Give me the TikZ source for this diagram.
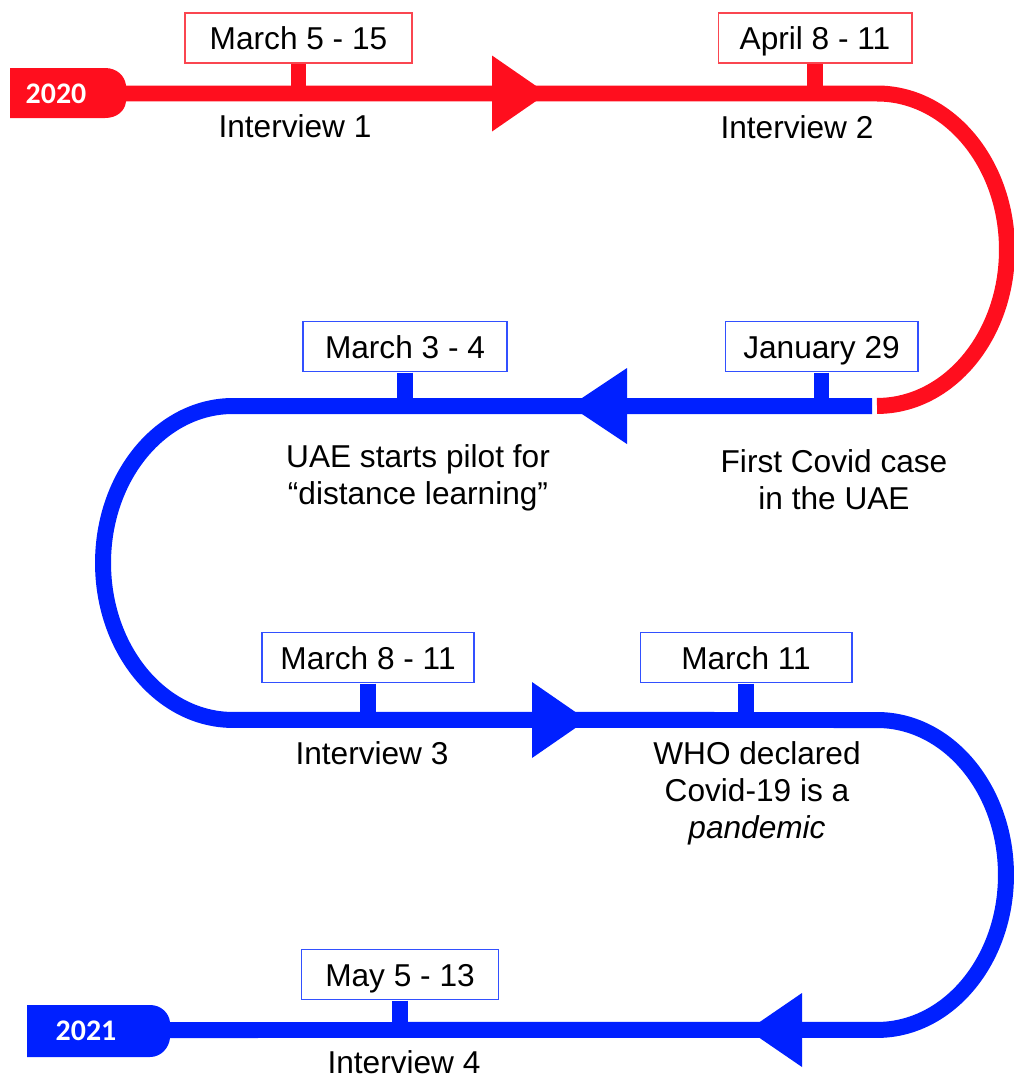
\documentclass[tikz,border=0pt]{standalone}
\usepackage{fontspec}
\setmainfont{Liberation Sans}
\newfontfamily\tagfont{Carlito}
\usepackage{tikz}

\definecolor{tlred}{RGB}{255,14,30}
\definecolor{tlblue}{RGB}{0,32,255}
\definecolor{tlredb}{RGB}{250,70,80}
\definecolor{tlblueb}{RGB}{50,80,255}

\begin{document}
\begin{tikzpicture}[x = .02cm, y = -.02cm,
		track/.style = {line width = 9.1pt},
		stem/.style = {line width = 9pt},
		datebox/.style = {draw, line width = .6pt, fill = white, minimum height = 1cm, inner sep = 0pt, text height = 15.6pt, text depth = 2.4pt, font = \fontsize{18}{21}\selectfont},
		lbl/.style = {align = center, anchor = north, inner sep = 0pt, font = \fontsize{18}{21}\selectfont},
		yeartag/.style = {text = white, inner sep = 0pt, font = \tagfont\bfseries\fontsize{17}{20}\selectfont}]
		\useasboundingbox (0, 0) rectangle (1014, 1082);
		% rows of the track
		\coordinate (r1) at (0, 93.5);
		\coordinate (r2) at (0, 406);
		\coordinate (r3) at (0, 720);
		\coordinate (r4) at (0, 1030);
		\coordinate (s1) at (124, 93.5);
		\coordinate (e1) at (877, 93.5);
		\coordinate (s2) at (872, 406);
		\coordinate (e2) at (233, 406);
		\coordinate (s3) at (233, 720);
		\coordinate (e3) at (877, 720);
		\coordinate (s4) at (877, 1030);
		\coordinate (e4) at (168, 1030);

		% 2020
		\fill [tlred] (10, 68) -- (105, 68) .. controls (117, 68) and (125, 76) .. (126, 85.5) -- (126, 101.5) .. controls (125, 111) and (117, 118) .. (105, 118) -- (10, 118) -- cycle;
		\node [yeartag] (y2020) at (56, 93.5) {2020};
		\draw [track, tlred] (s1) -- (e1) arc [start angle = 90, end angle = -90, x radius = 2.6cm, y radius = 3.125cm];
		\fill [tlred] (547, 93.5) -- (492, 55.5) -- (492, 131.5) -- cycle;

		% blue part
		\draw [track, tlblue] (s2) -- (e2) arc [start angle = 90, end angle = 270, x radius = 2.6cm, y radius = 3.14cm] -- (e3) arc [start angle = 90, end angle = -90, x radius = 2.58cm, y radius = 3.1cm] -- (e4);
		\fill [tlblue] (570, 406) -- (627, 368) -- (627, 444) -- cycle;
		\fill [tlblue] (587, 720) -- (532, 682) -- (532, 758) -- cycle;
		\fill [tlblue] (748, 1030) -- (802, 993) -- (802, 1067) -- cycle;

		% 2021
		\fill [tlblue] (27, 1005) -- (150, 1005) .. controls (161, 1005) and (169, 1013) .. (170, 1022) -- (170, 1038) .. controls (169, 1048) and (161, 1057) .. (150, 1057) -- (27, 1057) -- cycle;
		\node [yeartag] (y2021) at (86, 1031) {2021};

		% dates
		\node [datebox, draw = tlredb, minimum width = 4.54cm] (mar5) at (298.5, 38) {March 5 - 15};
		\node [datebox, draw = tlredb, minimum width = 3.88cm] (apr8) at (815, 38) {April 8 - 11};
		\node [datebox, draw = tlblueb, minimum width = 3.86cm] (jan29) at (821.5, 346.5) {January 29};
		\node [datebox, draw = tlblueb, minimum width = 4.08cm] (mar3) at (405, 346.5) {March 3 - 4};
		\node [datebox, draw = tlblueb, minimum width = 4.24cm] (mar8) at (368, 657.5) {March 8 - 11};
		\node [datebox, draw = tlblueb, minimum width = 4.24cm] (mar11) at (746, 657.5) {March 11};
		\node [datebox, draw = tlblueb, minimum width = 3.94cm] (may5) at (400, 974.5) {May 5 - 13};
		\draw [stem, tlred] ([yshift = -.3pt]mar5.south) -- (mar5.south |- r1);
		\draw [stem, tlred] ([yshift = -.3pt]apr8.south) -- (apr8.south |- r1);
		\draw [stem, tlblue] ([yshift = -.3pt]jan29.south) -- (jan29.south |- r2);
		\draw [stem, tlblue] ([yshift = -.3pt]mar3.south) -- (mar3.south |- r2);
		\draw [stem, tlblue] ([yshift = -.3pt]mar8.south) -- (mar8.south |- r3);
		\draw [stem, tlblue] ([yshift = -.3pt]mar11.south) -- (mar11.south |- r3);
		\draw [stem, tlblue] ([yshift = -.3pt]may5.south) -- (may5.south |- r4);

		% what happened
		\node [lbl] (int1) at (295, 114) {Interview 1};
		\node [lbl] (int2) at (797, 115) {Interview 2};
		\node [lbl] (pilot) at (418, 444) {UAE starts pilot for\\“distance learning”};
		\node [lbl] (case1) at (834, 449) {First Covid case\\in the UAE};
		\node [lbl] (int3) at (372, 741) {Interview 3};
		\node [lbl] (who) at (757, 741) {WHO declared\\Covid-19 is a\\\textit{pandemic}};
		\node [lbl] (int4) at (404, 1050) {Interview 4};
	\end{tikzpicture}
\end{document}
